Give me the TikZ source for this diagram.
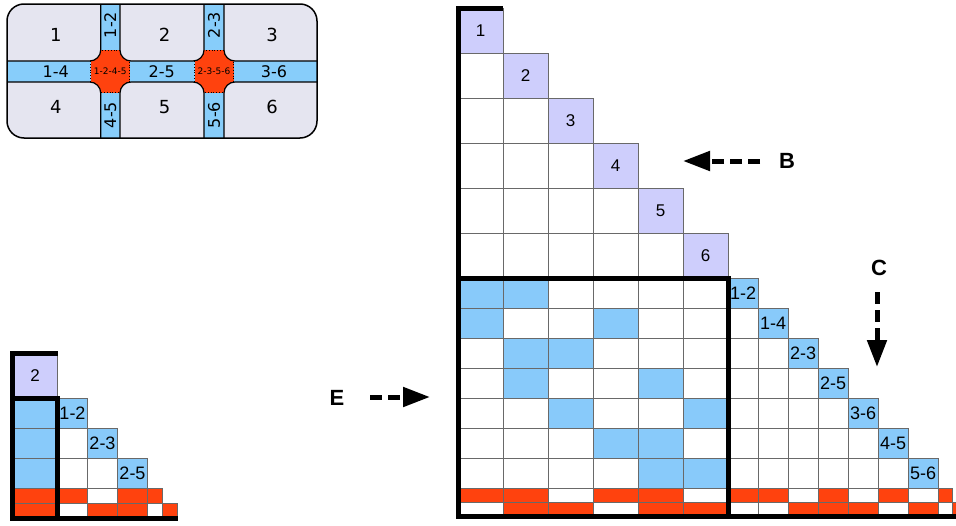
\documentclass[tikz,border=0pt]{standalone}
\usepackage{fontspec}
\setmainfont{Liberation Sans}
\newfontfamily\meshfont{DejaVu Sans}
\usetikzlibrary{arrows.meta}
\definecolor{lav}{RGB}{206,206,252}
\definecolor{cblue}{RGB}{136,202,250}
\definecolor{mblue}{RGB}{135,205,250}
\definecolor{cred}{RGB}{255,66,14}
\definecolor{msq}{RGB}{229,229,240}
\definecolor{gridc}{RGB}{105,105,105}
\tikzset{
  cell/.style={draw=gridc, line width=0.9pt},
  heavy/.style={draw=black, line width=5pt},
  nlbl/.style={font=\fontsize{17}{17}\selectfont, inner sep=0pt},
  elbl/.style={font=\fontsize{18}{18}\selectfont, inner sep=0pt},
  mnum/.style={font=\meshfont\fontsize{18}{18}\selectfont, inner sep=0pt},
  mband/.style={font=\meshfont\fontsize{16}{16}\selectfont, inner sep=0pt},
  mvert/.style={font=\meshfont\fontsize{9}{9}\selectfont, inner sep=0pt},
  msquare/.style={fill=msq, draw=black, line width=1.2pt, rounded corners=11pt},
  dasharrow/.style={line width=5pt, dash pattern=on 12pt off 6pt, -{Triangle[length=27pt,width=19pt]}},
  letter/.style={font=\fontsize{22}{22}\selectfont\bfseries, inner sep=0pt},
}
\begin{document}
\begin{tikzpicture}[x=1pt,y=-1pt]
\useasboundingbox (0,0) rectangle (956,525);
\clip (0,0) rectangle (956,525);

% ---------------- mesh ----------------
\fill[mblue, rounded corners=17pt] (7,4) rectangle (317,138);
\filldraw[fill=cred, draw=black, dotted, line width=0.8pt] (90.7,50) rectangle (129.8,92.7);
\filldraw[fill=cred, draw=black, dotted, line width=0.8pt] (194.5,50) rectangle (233.5,92.7);
\begin{scope}
  \clip[rounded corners=17pt] (7,4) rectangle (317,138);
  \path[msquare] (-10,-10) rectangle (100.7,61);
  \path[msquare] (120,-10) rectangle (204,61);
  \path[msquare] (224,-10) rectangle (330,61);
  \path[msquare] (-10,82) rectangle (100.7,150);
  \path[msquare] (120,82) rectangle (204,150);
  \path[msquare] (224,82) rectangle (330,150);
\end{scope}
\draw[line width=1.5pt, rounded corners=17pt] (7,4) rectangle (317,138);
\node[mnum] (m1) at (55.8,35) {1};
\node[mnum] (m2) at (164.7,35) {2};
\node[mnum] (m3) at (272,35) {3};
\node[mnum] (m4) at (55.8,107) {4};
\node[mnum] (m5) at (164.7,107) {5};
\node[mnum] (m6) at (272,107) {6};
\node[mband] (m14) at (55.8,71.5) {1-4};
\node[mband] (m25) at (161.7,71.5) {2-5};
\node[mband] (m36) at (274,71.5) {3-6};
\node[mband, rotate=90] (m12) at (110.3,25) {1-2};
\node[mband, rotate=90] (m23) at (214,25) {2-3};
\node[mband, rotate=90] (m45) at (110.3,115) {4-5};
\node[mband, rotate=90] (m56) at (214,115) {5-6};
\node[mvert] (m1245) at (110.3,71.5) {1-2-4-5};
\node[mvert] (m2356) at (214,71.5) {2-3-5-6};

% ---------------- big matrix ----------------
\foreach \ki in {0,...,5}{
  \foreach \ci in {0,...,\ki}{
    \filldraw[cell, fill=white] ({458+45*\ci},{8+45*\ki}) rectangle ++(45,45);
  }
  \filldraw[cell, fill=lav] ({458+45*\ki},{8+45*\ki}) rectangle ++(45,45);
}
\foreach \ki [evaluate=\ki as \lab using int(\ki+1)] in {0,...,5}{
  \node[nlbl] (N\lab) at ({480.5+45*\ki},{30.5+45*\ki}) {\lab};
}
\foreach \ji/\lst in {0/{cblue,cblue,white,white,white,white},
                      1/{cblue,white,white,cblue,white,white},
                      2/{white,cblue,cblue,white,white,white},
                      3/{white,cblue,white,white,cblue,white},
                      4/{white,white,cblue,white,white,cblue},
                      5/{white,white,white,cblue,cblue,white},
                      6/{white,white,white,white,cblue,cblue}}{
  \foreach \fc [count=\ci from 0] in \lst{
    \filldraw[cell, fill=\fc] ({458+45*\ci},{278+30*\ji}) rectangle ++(45,30);
  }
  \foreach \ci in {0,...,\ji}{
    \filldraw[cell, fill=white] ({728+30*\ci},{278+30*\ji}) rectangle ++(30,30);
  }
  \filldraw[cell, fill=cblue] ({728+30*\ji},{278+30*\ji}) rectangle ++(30,30);
}
\foreach \ji/\nm in {0/1-2,1/1-4,2/2-3,3/2-5,4/3-6,5/4-5,6/5-6}{
  \node[elbl] (E\ji) at ({743+30*\ji},{293+30*\ji}) {\nm};
}
\foreach \vi/\nl/\el/\vl in {0/{cred,cred,white,cred,cred,white}/{cred,cred,white,cred,white,cred,white}/{cred},
                             1/{white,cred,cred,white,cred,cred}/{white,white,cred,cred,cred,white,cred}/{white,cred}}{
  \foreach \fc [count=\ci from 0] in \nl{
    \filldraw[cell, fill=\fc] ({458+45*\ci},{488+14*\vi}) rectangle ++(45,14);
  }
  \foreach \fc [count=\ci from 0] in \el{
    \filldraw[cell, fill=\fc] ({728+30*\ci},{488+14*\vi}) rectangle ++(30,14);
  }
  \foreach \fc [count=\ci from 0] in \vl{
    \filldraw[cell, fill=\fc] ({938+14*\ci},{488+14*\vi}) rectangle ++(14,14);
  }
}
\draw[heavy] (503,8) -- (458,8) -- (458,516) -- (960,516);
\draw[heavy] (458,278) rectangle (728,516);

% ---------------- small matrix ----------------
\filldraw[cell, fill=lav] (12.5,353.5) rectangle (57.5,398.5);
\node[nlbl] (S2) at (35,376) {2};
\foreach \ji in {0,1,2}{
  \filldraw[cell, fill=cblue] (12.5,{398.5+30*\ji}) rectangle ++(45,30);
  \foreach \ci in {0,...,\ji}{
    \filldraw[cell, fill=white] ({57.5+30*\ci},{398.5+30*\ji}) rectangle ++(30,30);
  }
  \filldraw[cell, fill=cblue] ({57.5+30*\ji},{398.5+30*\ji}) rectangle ++(30,30);
}
\foreach \ji/\nm in {0/1-2,1/2-3,2/2-5}{
  \node[elbl] (SE\ji) at ({72.5+30*\ji},{413.5+30*\ji}) {\nm};
}
\foreach \vi/\el/\vl in {0/{cred,white,cred}/{cred}, 1/{white,cred,cred}/{white,cred}}{
  \filldraw[cell, fill=cred] (12.5,{488.5+15*\vi}) rectangle ++(45,15);
  \foreach \fc [count=\ci from 0] in \el{
    \filldraw[cell, fill=\fc] ({57.5+30*\ci},{488.5+15*\vi}) rectangle ++(30,15);
  }
  \foreach \fc [count=\ci from 0] in \vl{
    \filldraw[cell, fill=\fc] ({147.5+15*\ci},{488.5+15*\vi}) rectangle ++(15,15);
  }
}
\draw[heavy] (57.5,353.5) -- (12.5,353.5) -- (12.5,518.5) -- (177.5,518.5);
\draw[heavy] (12.5,398.5) rectangle (57.5,518.5);

% ---------------- arrows ----------------
\node[letter] (B) at (787,161) {B};
\coordinate (Bs) at (760,161);
\coordinate (Bt) at (683,161);
\draw[dasharrow] (Bs) -- (Bt);
\node[letter] (C) at (879,268) {C};
\coordinate (Cs) at (877,292);
\coordinate (Ct) at (877,367);
\draw[dasharrow] (Cs) -- (Ct);
\node[letter] (E) at (337,398) {E};
\coordinate (Es) at (370,397);
\coordinate (Et) at (430,397);
\draw[dasharrow] (Es) -- (Et);
\end{tikzpicture}
\end{document}
